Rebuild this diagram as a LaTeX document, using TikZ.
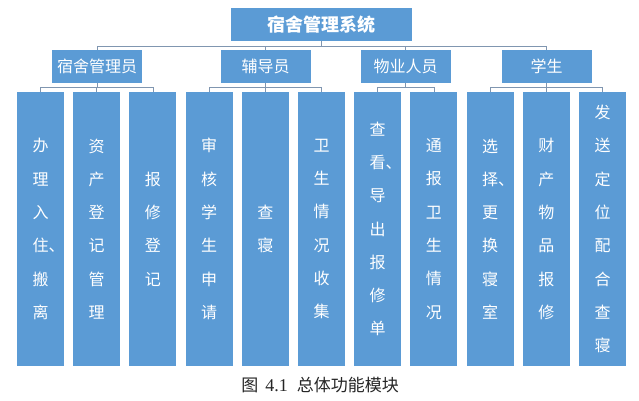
\documentclass[tikz,border=0pt]{standalone}
\usepackage{fontspec}
\setmainfont{Noto Sans CJK SC}
\newfontfamily\capnum{Liberation Serif}
\definecolor{boxblue}{RGB}{91,155,213}
\definecolor{linegray}{RGB}{128,150,176}
\begin{document}
\begin{tikzpicture}[x=1pt,y=-1pt,
  box/.style={fill=boxblue,draw=none,text=white,inner sep=0pt,anchor=center},
  topbox/.style={box,minimum width=181pt,minimum height=33pt,font=\fontsize{18}{20}\selectfont\bfseries},
  midbox/.style={box,minimum width=90pt,minimum height=33pt,font=\fontsize{16}{18}\selectfont},
  leafbox/.style={box,minimum width=47pt,minimum height=274pt,align=center,font=\fontsize{16}{33.3}\selectfont},
  conn/.style={draw=linegray,line width=0.8pt}]
\useasboundingbox (0,0) rectangle (639,401);
\fill[white] (0,0) rectangle (639,401);

\node[topbox] (top) at (321.5,24.5) {宿舍管理系统};

\node[midbox] (m1) at (97,66.5) {宿舍管理员};
\node[midbox] (m2) at (265.5,66.5) {辅导员};
\node[midbox] (m3) at (405.5,66.5) {物业人员};
\node[midbox] (m4) at (546.5,66.5) {学生};

\node[leafbox] (l1) at (40.5,229) {办\\理\\入\\住\rlap{、}\\搬\\离};
\node[leafbox] (l2) at (96.7,229) {资\\产\\登\\记\\管\\理};
\node[leafbox] (l3) at (152.9,229) {报\\修\\登\\记};
\node[leafbox] (l4) at (209.1,229) {审\\核\\学\\生\\申\\请};
\node[leafbox] (l5) at (265.3,229) {查\\寝};
\node[leafbox] (l6) at (321.5,229) {卫\\生\\情\\况\\收\\集};
\node[leafbox] (l7) at (377.7,229) {查\\看\rlap{、}\\导\\出\\报\\修\\单};
\node[leafbox] (l8) at (433.9,229) {通\\报\\卫\\生\\情\\况};
\node[leafbox] (l9) at (490.1,229) {选\\择\rlap{、}\\更\\换\\寝\\室};
\node[leafbox] (l10) at (546.3,229) {财\\产\\物\\品\\报\\修};
\node[leafbox] (l11) at (602.5,229) {发\\送\\定\\位\\配\\合\\查\\寝};

\foreach \c in {m1,m2,m3,m4}
  \draw[conn] (\c.north) -- ++(0,-3) -| (top.south);
\foreach \c in {l1,l2,l3}
  \draw[conn] (\c.north) -- ++(0,-4) -| (m1.south);
\foreach \c in {l4,l5,l6}
  \draw[conn] (\c.north) -- ++(0,-4) -| (m2.south);
\foreach \c in {l7,l8}
  \draw[conn] (\c.north) -- ++(0,-4) -| (m3.south);
\foreach \c in {l9,l10,l11}
  \draw[conn] (\c.north) -- ++(0,-4) -| (m4.south);

\node[font=\fontsize{17}{19}\selectfont,text=black!85,inner sep=0pt] (cap) at (320,385)
  {图\hspace{7pt}{\capnum\fontsize{18}{19}\selectfont 4.1}\hspace{9pt}总体功能模块};
\end{tikzpicture}
\end{document}
